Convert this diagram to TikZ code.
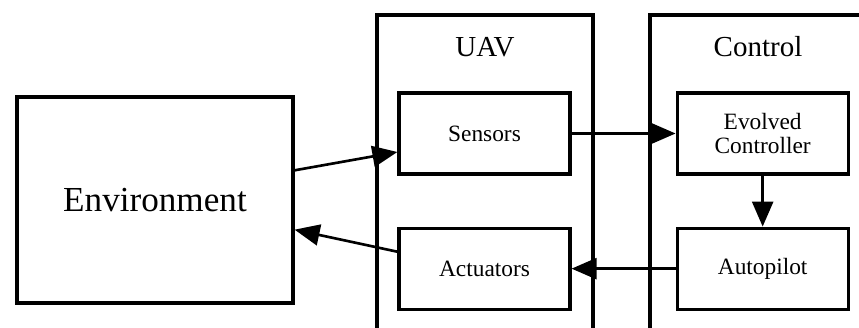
\documentclass[tikz,border=0pt]{standalone}
\usepackage{fontspec}
\setmainfont{Liberation Serif}
\usetikzlibrary{arrows.meta,positioning}

\begin{document}
\begin{tikzpicture}[>={Triangle[length=5mm,width=4.2mm]}, node distance=1.02cm and 2.08cm,
    box/.style={draw, line width=1.8pt, minimum width=3.42cm, minimum height=1.62cm, inner sep=2pt, align=center, font=\fontsize{13.3}{13.8}\selectfont},
    frame/.style={draw, line width=1.8pt},
    title/.style={font=\fontsize{16.5}{18}\selectfont},
    link/.style={->, line width=1.5pt}]
    \useasboundingbox (0,0) rectangle (17.18,6.56);
    \clip (0,0) rectangle (17.18,6.56);
    \draw[frame] (7.54,-0.5) rectangle (11.86,6.26);
    \draw[frame] (13.0,-0.5) rectangle (18.0,6.26);
    \node[title] (uav) at (9.7,5.62) {UAV};
    \node[title] (ctrl) at (15.16,5.62) {Control};
    \node[draw, line width=1.8pt, minimum width=5.52cm, minimum height=4.12cm, font=\fontsize{20}{22}\selectfont] (env) at (3.1,2.56) {Environment};
    \node[box] (sens) at (9.69,3.89) {Sensors};
    \node[box, below=of sens] (act) {Actuators};
    \node[box, right=of sens] (evo) {Evolved\\Controller};
    \node[box, below=of evo] (auto) {Autopilot};
    \draw[link] (env.12) -- (sens.192);
    \draw[link] (act.169) -- (env.-12);
    \draw[link] (sens) -- (evo);
    \draw[link] (evo) -- (auto);
    \draw[link] (auto) -- (act);
\end{tikzpicture}
\end{document}
